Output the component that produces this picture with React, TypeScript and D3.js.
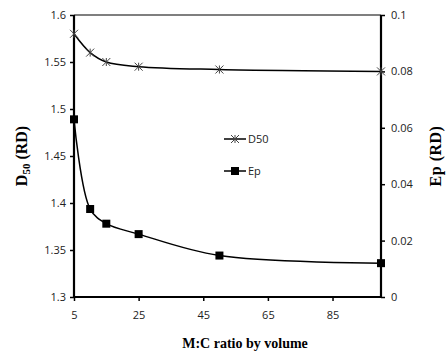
import React, { useEffect, useRef } from 'react';
import * as d3 from 'd3';

const ratios = [5, 10, 15, 25, 50, 100];
const d50Values = [1.58, 1.56, 1.55, 1.545, 1.542, 1.54];
const epValues = [0.063, 0.0312, 0.026, 0.0223, 0.0147, 0.012];
const xTicks = [5, 25, 45, 65, 85];
const leftTicks = [1.3, 1.35, 1.4, 1.45, 1.5, 1.55, 1.6];
const rightTicks = [0, 0.02, 0.04, 0.06, 0.08, 0.1];

const App: React.FC = () => {
    const svgRef = useRef<SVGSVGElement | null>(null);

    useEffect(() => {
        const width = 447;
        const height = 356;
        const margin = { top: 15, right: 66, bottom: 59, left: 74 };
        const innerWidth = width - margin.left - margin.right;
        const innerHeight = height - margin.top - margin.bottom;
        const tickFont = '"Open Sans", sans-serif';
        const labelFont = '"Liberation Serif", "Times New Roman", serif';

        const svg = d3.select(svgRef.current);
        svg.selectAll('*').remove();
        svg.attr('width', width).attr('height', height);

        const g = svg.append('g').attr('transform', `translate(${margin.left},${margin.top})`);

        const x = d3.scaleLinear().domain([5, 100]).range([0, innerWidth]);
        const yLeft = d3.scaleLinear().domain([1.3, 1.6]).range([innerHeight, 0]);
        const yRight = d3.scaleLinear().domain([0, 0.1]).range([innerHeight, 0]);

        // top border
        g.append('line')
            .attr('x1', 0).attr('x2', innerWidth)
            .attr('y1', 0).attr('y2', 0)
            .attr('stroke', '#000').attr('stroke-width', 1.2);

        // axes
        const leftAxis = g.append('g')
            .call(d3.axisLeft(yLeft).tickValues(leftTicks).tickSize(4).tickPadding(4)
                .tickFormat(d => String(+d)));
        const rightAxis = g.append('g')
            .attr('transform', `translate(${innerWidth},0)`)
            .call(d3.axisRight(yRight).tickValues(rightTicks).tickSize(4).tickPadding(6)
                .tickFormat(d => String(+d)));
        const bottomAxis = g.append('g')
            .attr('transform', `translate(0,${innerHeight})`)
            .call(d3.axisBottom(x).tickValues(xTicks).tickSize(4).tickPadding(10)
                .tickFormat(d => String(+d)));

        [leftAxis, rightAxis, bottomAxis].forEach(a => {
            a.select('.domain').remove();
            a.selectAll('.tick line').attr('stroke', '#000').attr('stroke-width', 1.5);
            a.selectAll('.tick text')
                .attr('font-family', tickFont)
                .attr('font-size', 11)
                .attr('fill', '#222');
        });

        g.append('line').attr('x1', 0).attr('x2', 0).attr('y1', 0).attr('y2', innerHeight)
            .attr('stroke', '#000').attr('stroke-width', 2.2);
        g.append('line').attr('x1', innerWidth).attr('x2', innerWidth).attr('y1', 0).attr('y2', innerHeight)
            .attr('stroke', '#000').attr('stroke-width', 2.2);
        g.append('line').attr('x1', -1).attr('x2', innerWidth + 1).attr('y1', innerHeight).attr('y2', innerHeight)
            .attr('stroke', '#000').attr('stroke-width', 2.2);

        // D50 series
        const d50Line = d3.line<number>()
            .x((_, i) => x(ratios[i]))
            .y(d => yLeft(d))
            .curve(d3.curveCatmullRom.alpha(0.5));
        g.append('path')
            .datum(d50Values)
            .attr('d', d50Line)
            .attr('fill', 'none')
            .attr('stroke', '#000')
            .attr('stroke-width', 1.5);

        const star = (sel: d3.Selection<SVGGElement, unknown, null, undefined>, cx: number, cy: number) => {
            const s = 4;
            const grp = sel.append('g').attr('transform', `translate(${cx},${cy})`)
                .attr('stroke', '#444').attr('stroke-width', 1);
            grp.append('line').attr('x1', -s).attr('y1', -s).attr('x2', s).attr('y2', s);
            grp.append('line').attr('x1', -s).attr('y1', s).attr('x2', s).attr('y2', -s);
            grp.append('line').attr('x1', 0).attr('y1', -s).attr('x2', 0).attr('y2', s);
        };
        d50Values.forEach((v, i) => star(g, x(ratios[i]), yLeft(v)));

        // Ep series
        const epLine = d3.line<number>()
            .x((_, i) => x(ratios[i]))
            .y(d => yRight(d))
            .curve(d3.curveCatmullRom.alpha(0.5));
        g.append('path')
            .datum(epValues)
            .attr('d', epLine)
            .attr('fill', 'none')
            .attr('stroke', '#000')
            .attr('stroke-width', 1.5);

        g.selectAll('rect.ep')
            .data(epValues)
            .enter()
            .append('rect')
            .attr('class', 'ep')
            .attr('x', (_, i) => x(ratios[i]) - 4)
            .attr('y', d => yRight(d) - 4)
            .attr('width', 8)
            .attr('height', 8)
            .attr('fill', '#000');

        // legend
        const legend = svg.append('g');
        legend.append('line').attr('x1', 224).attr('x2', 246).attr('y1', 139).attr('y2', 139)
            .attr('stroke', '#000').attr('stroke-width', 1.5);
        star(legend, 235, 139);
        legend.append('text').attr('x', 248).attr('y', 143)
            .attr('font-family', tickFont).attr('font-size', 11).attr('fill', '#222')
            .text('D50');

        legend.append('line').attr('x1', 224).attr('x2', 246).attr('y1', 171).attr('y2', 171)
            .attr('stroke', '#000').attr('stroke-width', 1.5);
        legend.append('rect').attr('x', 231).attr('y', 167).attr('width', 8).attr('height', 8)
            .attr('fill', '#000');
        legend.append('text').attr('x', 248).attr('y', 175)
            .attr('font-family', tickFont).attr('font-size', 11).attr('fill', '#222')
            .text('Ep');

        // axis titles
        const leftTitle = svg.append('text')
            .attr('transform', `translate(27,${margin.top + innerHeight / 2}) rotate(-90)`)
            .attr('text-anchor', 'middle')
            .attr('font-family', labelFont)
            .attr('font-weight', 'bold')
            .attr('font-size', 16);
        leftTitle.append('tspan').text('D');
        leftTitle.append('tspan').attr('font-size', 11).attr('dy', 3).text('50');
        leftTitle.append('tspan').attr('dy', -3).text(' (RD)');

        svg.append('text')
            .attr('transform', `translate(441,${margin.top + innerHeight / 2}) rotate(-90)`)
            .attr('text-anchor', 'middle')
            .attr('font-family', labelFont)
            .attr('font-weight', 'bold')
            .attr('font-size', 16)
            .attr('letter-spacing', 0.5)
            .text('Ep (RD)');

        svg.append('text')
            .attr('x', 245)
            .attr('y', 348)
            .attr('text-anchor', 'middle')
            .attr('font-family', labelFont)
            .attr('font-weight', 'bold')
            .attr('font-size', 14)
            .text('M:C ratio by volume');
    }, []);

    return (
        <svg ref={svgRef} style={{ position: 'absolute', left: 0, top: 0, background: '#fff' }}></svg>
    );
};

export default App;
